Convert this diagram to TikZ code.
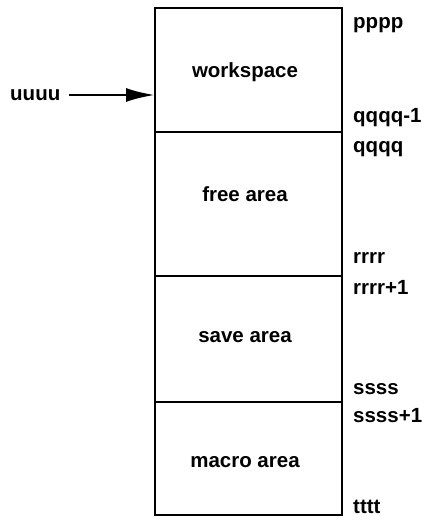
\documentclass[tikz,border=0pt]{standalone}
\usepackage{fontspec}
\setmainfont{Liberation Sans}
\usetikzlibrary{arrows.meta}

\tikzset{
  memline/.style={line width=2.7pt},
  arealabel/.style={anchor=mid},
  addrlabel/.style={anchor=mid west,inner sep=0pt}
}

\begin{document}
\begin{tikzpicture}[x=1pt,y=-1pt,font=\bfseries\fontsize{20.5}{24}\selectfont]
\useasboundingbox (0,0) rectangle (427,525);
\draw[memline] (155,8) rectangle (342,515);
\draw[memline] (155,132)--(342,132);
\draw[memline] (155,276)--(342,276);
\draw[memline] (155,402)--(342,402);
\node[arealabel] (workspace) at (245,75) {workspace};
\node[arealabel] (free) at (245,199) {free area};
\node[arealabel] (save) at (245,340) {save area};
\node[arealabel] (macro) at (245,465) {macro area};
\node[addrlabel] (pppp) at (353,26) {pppp};
\node[addrlabel] (qqqqm) at (353,120) {qqqq-1};
\node[addrlabel] (qqqq) at (353,150) {qqqq};
\node[addrlabel] (rrrr) at (353,261) {rrrr};
\node[addrlabel] (rrrrp) at (353,292) {rrrr+1};
\node[addrlabel] (ssss) at (353,392) {ssss};
\node[addrlabel] (ssssp) at (353,420) {ssss+1};
\node[addrlabel] (tttt) at (353,511) {tttt};
\node[addrlabel] (uuuu) at (10,98) {uuuu};
\coordinate (entry) at (155,95);
\draw[memline,-{Latex[length=29pt,width=14pt]},shorten <=9pt] (uuuu.east |- entry) -- (entry);
\end{tikzpicture}
\end{document}
